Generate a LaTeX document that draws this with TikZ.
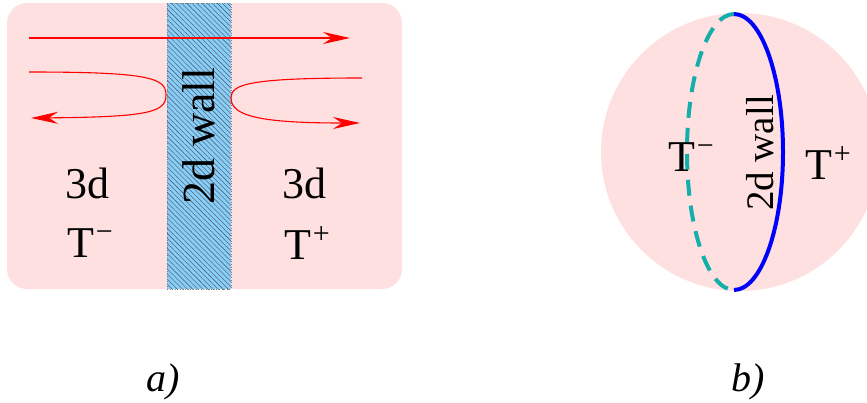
\documentclass[tikz,border=0pt]{standalone}
\usepackage{fontspec}
\setmainfont{Liberation Serif}
\usetikzlibrary{arrows.meta, patterns.meta}
\definecolor{bgpink}{RGB}{255, 224, 224}
\definecolor{wallblue}{RGB}{135, 206, 250}
\definecolor{dashteal}{RGB}{20, 175, 170}
\definecolor{flowred}{RGB}{255, 0, 0}
\newcommand{\supm}[1]{\kern2pt\raisebox{16pt}{\fontsize{30}{30}\selectfont #1}}

\begin{document}
\begin{tikzpicture}[x=1pt, y=-1pt,
        lbl/.style={font=\fontsize{44}{48}\selectfont, inner sep=0pt},
        walltxt/.style={rotate=90, inner sep=0pt},
        captxt/.style={font=\fontsize{40}{42}\selectfont\itshape, inner sep=0pt},
        flow/.style={-{Stealth[length=27pt, width=12pt, inset=9pt]}, flowred, line width=1.1pt}
      ]
        \useasboundingbox (0,0) rectangle (867,402);
        \clip (0,0) rectangle (867,402);
        % a) slab with the wall
        \fill[bgpink, rounded corners=20pt] (7,3) rectangle (402,289);
        \fill[wallblue] (167,3) rectangle (231,289);
        \fill[pattern={Lines[angle=-45, distance=3.6pt, line width=0.4pt]}, pattern color=black!70] (167,3) rectangle (231,289);
        \draw[gray, dotted, line width=0.6pt] (167,3) rectangle (231,289);
        \coordinate (passin) at (29,38);
        \coordinate (passout) at (350,38);
        \coordinate (leftin) at (29,72);
        \coordinate (leftout) at (31,118);
        \coordinate (rightin) at (362,78);
        \coordinate (rightout) at (360,123);
        \draw[flow] (passin) -- (passout);
        \draw[flow] (leftin) .. controls (150,72) and (166,78) .. (166,95)
          .. controls (166,112) and (150,117) .. (leftout);
        \draw[flow] (rightin) .. controls (250,78) and (231,84) .. (231,98)
          .. controls (231,116) and (260,123) .. (rightout);
        \node[walltxt, font=\fontsize{46}{48}\selectfont] (wallA) at (199,136) {2d wall};
        \node[lbl] (dimL) at (87,183) {3d};
        \node[lbl] (phaseL) at (90,243) {T\supm{−}};
        \node[lbl] (dimR) at (304,183) {3d};
        \node[lbl] (phaseR) at (307,243) {T\supm{+}};
        % b) ball cut by the wall
        \fill[bgpink] (740,152) circle (139);
        \coordinate (wtop) at (734,14);
        \draw[dashteal, dash pattern=on 16pt off 10pt, line width=4pt]
          (wtop) arc[start angle=270, end angle=90, x radius=47, y radius=138];
        \draw[blue, line width=4pt]
          (wtop) arc[start angle=-90, end angle=90, x radius=49, y radius=138];
        \node[lbl] (phaseIn) at (691,157) {T\supm{−}};
        \node[walltxt, font=\fontsize{39}{41}\selectfont] (wallB) at (760,153) {2d wall};
        \node[lbl] (phaseOut) at (828,163) {T\supm{+}};
        % captions
        \node[captxt] (capA) at (163,382) {a)};
        \node[captxt] (capB) at (748,382) {b)};
      \end{tikzpicture}
\end{document}
